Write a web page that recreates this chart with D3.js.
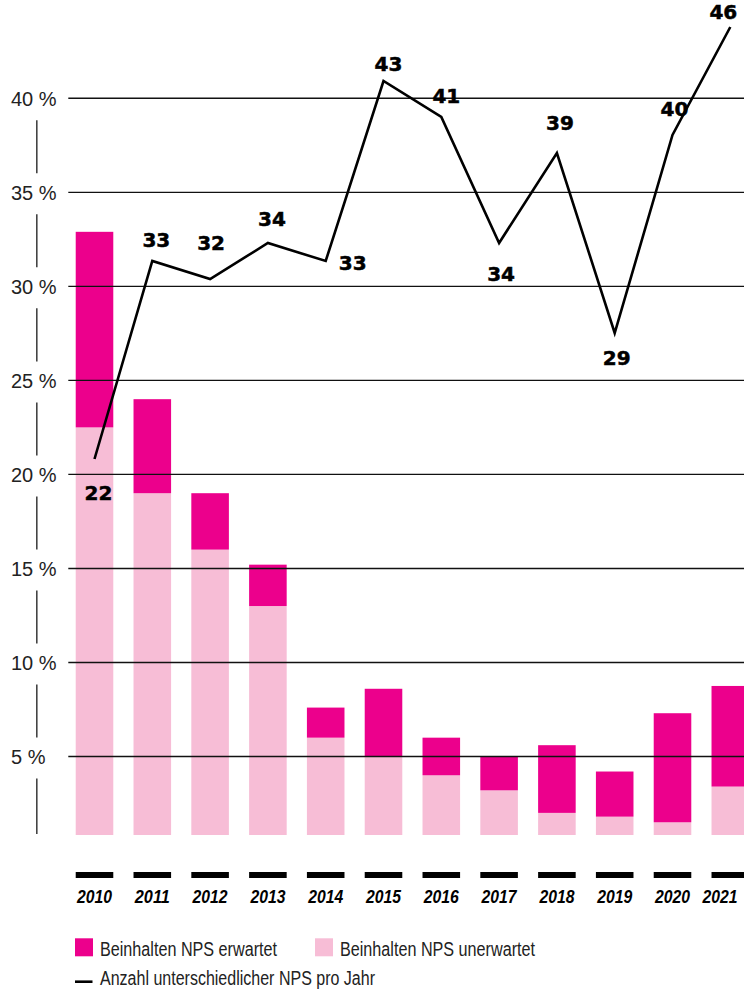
<!DOCTYPE html>
<html>
<head>
<meta charset="utf-8">
<script src="https://cdn.jsdelivr.net/npm/d3@7"></script>
<style>
  html, body { margin: 0; padding: 0; background: #fff; }
  svg { display: block; }
</style>
</head>
<body>
<svg id="chart" width="744" height="989"></svg>
<script>
// Years on the x axis
const years = ["2010", "2011", "2012", "2013", "2014", "2015", "2016", "2017", "2018", "2019", "2020", "2021"];
// Share of papers with unexpected NPS content (%), lower stack segment
const unexpectedShare = [22.5, 19, 16, 13, 6, 5, 4, 3.2, 2, 1.8, 1.5, 3.4];
// Share of papers with expected NPS content (%), upper stack segment
const expectedShare = [10.4, 5, 3, 2.2, 1.6, 3.6, 2, 1.8, 3.6, 2.4, 5.8, 5.35];
// Number of distinct NPS per year (line)
const npsCount = [22, 33, 32, 34, 33, 43, 41, 34, 39, 29, 40, 46];
// Percentage gridline ticks
const yTicks = [5, 10, 15, 20, 25, 30, 35, 40];
// Legend entries
const legendBars = ["Beinhalten NPS erwartet", "Beinhalten NPS unerwartet"];
const legendLine = "Anzahl unterschiedlicher NPS pro Jahr";

// Where each count label sits relative to its point: [dx, dy of baseline]
const countLabelOffset = [[4, 41], [4, -14], [1, -29], [4, -17], [27, 9], [5, -10],
                          [5, -14], [2, 38], [3, -23], [2, 32], [2, -19], [-7, -8]];

const W = 744, H = 989;
const colExpected = "#ec008c";
const colUnexpected = "#f7bdd6";
const baseFont = "'Liberation Sans', Arial, sans-serif";

const svg = d3.select("#chart");

const x = d3.scaleBand().domain(years).range([65.6, 759.2])
  .paddingInner(0.35).paddingOuter(0.175);
const y = d3.scaleLinear().domain([0, 40]).range([850.5, 98.3]);
const yCount = d3.scaleLinear().domain([0, 45]).range([855, 45]);

const plotBottom = 835;

svg.append("defs").append("clipPath").attr("id", "plotClip")
  .append("rect").attr("x", 0).attr("y", 0).attr("width", W).attr("height", plotBottom);

// Stacked bars
const rows = years.map((yr, i) => ({ year: yr, unexpected: unexpectedShare[i], expected: expectedShare[i] }));
const stack = d3.stack().keys(["unexpected", "expected"])(rows);
const colors = { unexpected: colUnexpected, expected: colExpected };

const barG = svg.append("g").attr("clip-path", "url(#plotClip)");
barG.selectAll("g.layer").data(stack).join("g")
  .attr("class", "layer")
  .attr("fill", d => colors[d.key])
  .selectAll("rect").data(d => d).join("rect")
  .attr("x", d => x(d.data.year))
  .attr("width", x.bandwidth())
  .attr("y", d => y(d[1]))
  .attr("height", d => y(d[0]) - y(d[1]));

// Horizontal gridlines, drawn over the bars
svg.append("g").selectAll("line").data(yTicks).join("line")
  .attr("x1", 68.3).attr("x2", W)
  .attr("y1", d => y(d)).attr("y2", d => y(d))
  .attr("stroke", "#111").attr("stroke-width", 1.4);

// Y tick labels
svg.append("g").selectAll("text").data(yTicks).join("text")
  .attr("x", 11).attr("y", d => y(d) + 7.6)
  .attr("font-family", baseFont)
  .attr("font-size", 20).attr("fill", "#222")
  .text(d => d + " %");

// Broken vertical axis between the tick labels
const axisSegs = yTicks.slice().reverse().map((t, i, arr) => {
  const top = y(t) + 22;
  const bottom = i < arr.length - 1 ? y(arr[i + 1]) - 19 : plotBottom - 1;
  return [top, bottom];
});
svg.append("g").selectAll("line").data(axisSegs).join("line")
  .attr("x1", 36.8).attr("x2", 36.8)
  .attr("y1", d => d[0]).attr("y2", d => d[1])
  .attr("stroke", "#444").attr("stroke-width", 1.6);

// Category tick dashes and year labels (kept inside the right edge)
svg.append("g").selectAll("rect").data(years).join("rect")
  .attr("x", d => x(d)).attr("width", x.bandwidth())
  .attr("y", 872).attr("height", 6).attr("fill", "#000");

svg.append("g").selectAll("text").data(years).join("text")
  .attr("x", d => Math.min(x(d) + x.bandwidth() / 2, W - 24)).attr("y", 903)
  .attr("text-anchor", "middle")
  .attr("font-family", baseFont)
  .attr("font-size", 18).attr("font-weight", "bold").attr("font-style", "italic")
  .attr("textLength", 35).attr("lengthAdjust", "spacingAndGlyphs")
  .attr("fill", "#000")
  .text(d => d);

// Line: distinct NPS per year
const pts = years.map((yr, i) => ({ year: yr, v: npsCount[i], i }));
const cx = d => x(d.year) + x.bandwidth() / 2;
svg.append("path").datum(pts)
  .attr("fill", "none").attr("stroke", "#000").attr("stroke-width", 2.6)
  .attr("stroke-linejoin", "miter")
  .attr("d", d3.line().x(cx).y(d => yCount(d.v)));

svg.append("g").selectAll("text").data(pts).join("text")
  .attr("x", d => cx(d) + countLabelOffset[d.i][0])
  .attr("y", d => yCount(d.v) + countLabelOffset[d.i][1])
  .attr("text-anchor", "middle")
  .attr("font-family", "'DejaVu Sans', sans-serif")
  .attr("font-size", 20).attr("font-weight", "bold").attr("fill", "#000")
  .attr("stroke", "#000").attr("stroke-width", 0.5)
  .text(d => d.v);

// Legend
const lg = svg.append("g");
const legendItems = [
  { label: legendBars[0], color: colExpected, x: 75, w: 177 },
  { label: legendBars[1], color: colUnexpected, x: 315, w: 195 }
];
lg.selectAll("rect").data(legendItems).join("rect")
  .attr("x", d => d.x).attr("y", 938.3).attr("width", 18).attr("height", 18)
  .attr("fill", d => d.color);
lg.selectAll("text.bar").data(legendItems).join("text")
  .attr("class", "bar")
  .attr("x", d => d.x + 25).attr("y", 956)
  .attr("font-family", baseFont).attr("font-size", 20).attr("fill", "#222")
  .attr("textLength", d => d.w).attr("lengthAdjust", "spacingAndGlyphs")
  .text(d => d.label);
lg.append("line").attr("x1", 75).attr("x2", 92.5).attr("y1", 981.7).attr("y2", 981.7)
  .attr("stroke", "#000").attr("stroke-width", 2.6);
lg.append("text").attr("x", 100).attr("y", 984.5)
  .attr("font-family", baseFont).attr("font-size", 20).attr("fill", "#222")
  .attr("textLength", 275).attr("lengthAdjust", "spacingAndGlyphs")
  .text(legendLine);
</script>
</body>
</html>
